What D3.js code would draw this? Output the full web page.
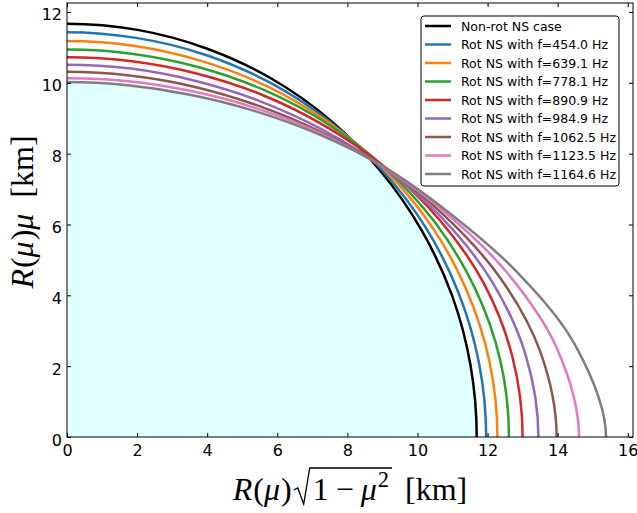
<!DOCTYPE html>
<html>
<head>
<meta charset="utf-8">
<script src="https://cdn.jsdelivr.net/npm/d3@7"></script>
<style>
  body { margin: 0; background: #fff; }
  .tick text { font-family: "DejaVu Sans"; font-size: 16px; fill: #000; }
</style>
</head>
<body>
<svg id="chart" width="637" height="513"></svg>
<script>
// mu = sin(latitude) every 10 degrees, and R(mu) in km
var mu = [0, 0.174, 0.342, 0.5, 0.643, 0.766, 0.866, 0.94, 0.985, 1];

var rNonRot = [11.69, 11.69, 11.69, 11.68, 11.68, 11.68, 11.68, 11.67, 11.67, 11.67];
var r454  = [11.96, 11.94, 11.89, 11.82, 11.73, 11.64, 11.56, 11.49, 11.44, 11.43];
var r639  = [12.28, 12.24, 12.13, 11.98, 11.79, 11.60, 11.43, 11.29, 11.21, 11.18];
var r778  = [12.61, 12.55, 12.37, 12.12, 11.83, 11.55, 11.30, 11.10, 10.98, 10.94];
var r891  = [13.00, 12.91, 12.66, 12.27, 11.85, 11.46, 11.15, 10.91, 10.77, 10.72];
var r985  = [13.45, 13.29, 12.89, 12.36, 11.81, 11.33, 10.96, 10.70, 10.56, 10.51];
var r1062 = [13.97, 13.72, 13.15, 12.46, 11.82, 11.25, 10.82, 10.53, 10.36, 10.31];
var r1124 = [14.61, 14.21, 13.41, 12.55, 11.82, 11.21, 10.73, 10.39, 10.20, 10.13];
var r1165 = [15.38, 14.74, 13.65, 12.62, 11.84, 11.16, 10.64, 10.28, 10.08, 10.02];

var labels = ["Non-rot NS case", "Rot NS with f=454.0 Hz", "Rot NS with f=639.1 Hz",
  "Rot NS with f=778.1 Hz", "Rot NS with f=890.9 Hz", "Rot NS with f=984.9 Hz",
  "Rot NS with f=1062.5 Hz", "Rot NS with f=1123.5 Hz", "Rot NS with f=1164.6 Hz"];
var colors = ["#000000", "#1f77b4", "#ff7f0e", "#2ca02c", "#d62728", "#9467bd",
  "#8c564b", "#e377c2", "#7f7f7f"];
var xTicks = [0, 2, 4, 6, 8, 10, 12, 14, 16];
var yTicks = [0, 2, 4, 6, 8, 10, 12];

var series = [rNonRot, r454, r639, r778, r891, r985, r1062, r1124, r1165];

var margin = { top: 3, right: 4, bottom: 76, left: 67 },
    width = 637 - margin.left - margin.right,
    height = 513 - margin.top - margin.bottom;

var svg = d3.select("#chart");
var g = svg.append("g")
    .attr("transform", "translate(" + margin.left + "," + margin.top + ")");

// limits are 5% past the largest radius, as in the original
var x = d3.scaleLinear()
    .domain([0, 1.05 * d3.max(series, function (r) { return r[0]; })])
    .range([0, width]);
var y = d3.scaleLinear()
    .domain([0, 1.05 * d3.max(series, function (r) { return r[r.length - 1]; })])
    .range([height, 0]);

// points (R sqrt(1-mu^2), R mu); the neighbours are mirrored across the axes
// so the spline meets the equator and the pole square (the frame clips the rest)
function toXY(r) {
    var pts = mu.map(function (m, i) { return [r[i] * Math.sqrt(1 - m * m), r[i] * m]; });
    var n = pts.length;
    return [[pts[1][0], -pts[1][1]]].concat(pts, [[-pts[n - 2][0], pts[n - 2][1]]]);
}

var line = d3.line()
    .x(function (d) { return x(d[0]); })
    .y(function (d) { return y(d[1]); })
    .curve(d3.curveCatmullRom.alpha(0.5));

function regionPath(r) {
    return line(toXY(r)) + "L" + x(0) + "," + y(0) + "Z";
}

g.append("clipPath").attr("id", "frame")
    .append("rect").attr("width", width).attr("height", height);
g.append("clipPath").attr("id", "inner")
    .append("path").attr("d", regionPath(r1165));

// light cyan region inside all the shapes
g.append("g").attr("clip-path", "url(#frame)")
  .append("path")
    .attr("d", regionPath(rNonRot))
    .attr("fill", "#e0ffff")
    .attr("clip-path", "url(#inner)");

var plot = g.append("g").attr("clip-path", "url(#frame)");
series.forEach(function (r, i) {
    plot.append("path")
        .datum(toXY(r))
        .attr("fill", "none")
        .attr("stroke", colors[i])
        .attr("stroke-width", 2.5)
        .attr("d", line);
});

// axes, ticks inside on all four sides
g.append("g")
    .attr("transform", "translate(0," + height + ")")
    .call(d3.axisBottom(x).tickValues(xTicks).tickFormat(d3.format("d"))
        .tickSizeInner(-4).tickSizeOuter(0).tickPadding(8));
var yAxis = g.append("g")
    .call(d3.axisLeft(y).tickValues(yTicks).tickFormat(d3.format("d"))
        .tickSizeInner(-4).tickSizeOuter(0).tickPadding(5));
yAxis.selectAll(".tick text").attr("dy", "0.5em");
g.append("g")
    .call(d3.axisTop(x).tickValues(xTicks).tickFormat("").tickSizeInner(-4).tickSizeOuter(0));
g.append("g")
    .attr("transform", "translate(" + width + ",0)")
    .call(d3.axisRight(y).tickValues(yTicks).tickFormat("").tickSizeInner(-4).tickSizeOuter(0));
g.selectAll(".domain").remove();
g.selectAll(".tick line").attr("stroke", "#000");

g.append("rect")
    .attr("width", width).attr("height", height)
    .attr("fill", "none").attr("stroke", "#000").attr("stroke-width", 1);

// legend
var legend = svg.append("g").attr("transform", "translate(421,16)");
legend.append("rect")
    .attr("width", 198).attr("height", 170).attr("rx", 3)
    .attr("fill", "#fff").attr("stroke", "#000").attr("stroke-width", 1);
labels.forEach(function (lab, i) {
    var row = legend.append("g").attr("transform", "translate(0," + (10 + i * 18.5) + ")");
    row.append("line").attr("x1", 4).attr("x2", 30)
        .attr("stroke", colors[i]).attr("stroke-width", 2.5);
    row.append("text").attr("x", 40).attr("dy", "0.36em")
        .style("font-family", "DejaVu Sans").style("font-size", "12.5px")
        .text(lab);
});

// math style axis labels
var mathFont = "Liberation Serif";
function piece(grp, pos, str, italic, size, dy) {
    var t = grp.append("text")
        .attr("x", pos.x).attr("y", dy || 0)
        .style("font-family", mathFont).style("font-size", size + "px")
        .style("font-style", italic ? "italic" : "normal")
        .text(str);
    pos.x += t.node().getComputedTextLength();
    return t;
}

var fs = 32;
var xl = svg.append("g");
var p = { x: 0 };
piece(xl, p, "R", true, fs);
p.x += 1;
piece(xl, p, "(", false, fs);
piece(xl, p, "μ", true, fs);
p.x += 1;
piece(xl, p, ")", false, fs);
var r0 = p.x + 2;
p.x += 21;
var barStart = p.x - 3;
piece(xl, p, "1", false, fs);
p.x += 7;
piece(xl, p, "−", false, fs);
p.x += 7;
piece(xl, p, "μ", true, fs);
p.x += 1;
piece(xl, p, "2", false, fs * 0.7, -13);
var barEnd = p.x + 3;
p.x += 16;
piece(xl, p, "[km]", false, fs);
xl.append("path")
    .attr("d", "M" + r0 + ",-10 L" + (r0 + 4) + ",-12 L" + (r0 + 10) + ",4 L" + barStart + ",-32 L" + barEnd + ",-32")
    .attr("fill", "none").attr("stroke", "#000").attr("stroke-width", 1.3);
xl.attr("transform", "translate(" + (margin.left + width / 2 - p.x / 2) + ",500)");

var yl = svg.append("g");
var q = { x: 0 };
piece(yl, q, "R", true, fs);
q.x += 1;
piece(yl, q, "(", false, fs);
piece(yl, q, "μ", true, fs);
q.x += 1;
piece(yl, q, ")", false, fs);
piece(yl, q, "μ", true, fs);
q.x += 16;
piece(yl, q, "[km]", false, fs);
yl.attr("transform", "translate(33," + (212 + q.x / 2) + ") rotate(-90)");
</script>
</body>
</html>
